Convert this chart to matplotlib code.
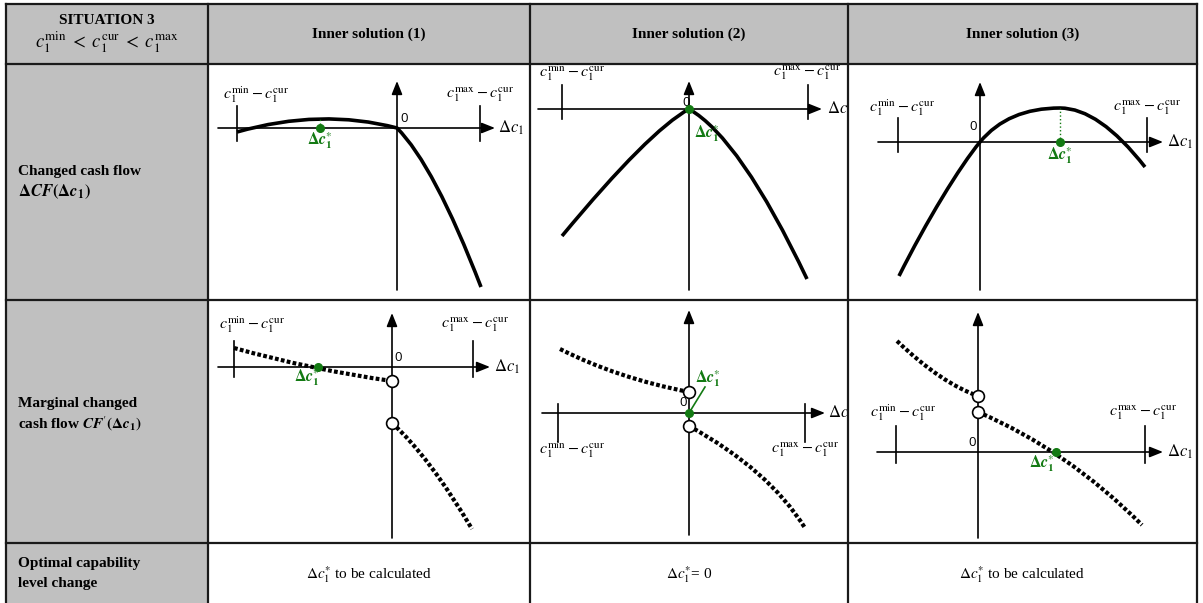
import matplotlib
matplotlib.use('agg')
import matplotlib.pyplot as plt
from matplotlib.path import Path
from matplotlib.patches import PathPatch, Rectangle, FancyArrowPatch

plt.rcParams['mathtext.fontset'] = 'stix'
SERIF = 'Liberation Serif'

W, H = 1203, 603
GREEN = '#137a13'
GRAY = '#c0c0c0'

# table layout (pixels)
col_edges = [6, 208, 530, 848, 1197]
row_edges = [4, 64, 300, 543, 603]

col_titles = ['Inner solution (1)', 'Inner solution (2)', 'Inner solution (3)']
results = [r'$\Delta c_1^{*}$ to be calculated', r'$\Delta c_1^{*}$= 0',
           r'$\Delta c_1^{*}$ to be calculated']

# --- sketch data, offsets from each panel's origin (x right, y up) ---
# panels 0-2: changed cash flow, panels 3-5: marginal changed cash flow
origins = [(397, 128), (689, 109), (980, 142), (392, 367), (689, 413), (978, 452)]
lo_bound = [-160, -127, -82, -158, -131, -82]
hi_bound = [83, 119, 167, 81, 116, 167]
tick_span = [(-13, 22), (-10, 24), (-10, 24), (-10, 26), (-29, 9), (-11, 26)]
h_axis = [(-179, 98), (-151, 133), (-102, 183), (-174, 98), (-147, 136), (-101, 185)]
v_axis = [(-162, 47), (-181, 28), (-148, 60), (-171, 54), (-122, 103), (-86, 140)]

# bezier segments: 3 points = quadratic, 4 points = cubic
cf_curves = [
    [[(-160, -4), (-76, 20), (0, 0)], [(0, 0), (37, -37), (84, -159)]],
    [[(-127, -127), (-40, -22), (0, 0)], [(0, 0), (51, -29), (118, -170)]],
    [[(-81, -134), (-54, -80), (-20, -24), (0, 0)], [(0, 0), (28, 34), (80, 34)],
     [(80, 34), (119, 34), (165, -25)]],
]
mcf_curves = [
    [[(-158, 19), (-79, -3), (0, -14)], [(0, -56), (37.5, -90), (80, -162)]],
    [[(-129, 64), (-72, 35), (0, 21)], [(0, -13), (80, -57), (116, -115)]],
    [[(-81, 111), (-37, 69), (0, 56)], [(0, 40), (89, 2), (164, -73)]],
]
open_pts = [[(0, -14), (0, -56)], [(0, 21), (0, -13)], [(0, 56), (0, 40)]]

opt_pts = [(-77, 0), (0, 0), (80, 0), (-74, 0), (0, 0), (78, 0)]
opt_guides = [[(-77, 0), (-77, 10)], None, [(80, 0), (80, 34)], None, [(0, 0), (16, 26)], None]
opt_labels = [(-77, -13), (18, -25), (80, -14), (-85, -11), (19, 34), (64, -12)]

min_labels = [(-141, 33), (-117, 36), (-78, 34), (-140, 42), (-117, -37), (-75, 39)]
max_labels = [(83, 33), (118, 36), (167, 34), (83, 42), (116, -37), (165, 39)]
zero_labels = [(7, 10), (-3, 6), (-7, 15), (6, 10), (-6, 10), (-6, 9)]
dc_label_x = [101, 138, 187, 102, 139, 189]


def bezier_path(segments):
    verts, codes = [], []
    for seg in segments:
        if not verts or verts[-1] != seg[0]:
            verts.append(seg[0])
            codes.append(Path.MOVETO)
        code = Path.CURVE3 if len(seg) == 3 else Path.CURVE4
        for p in seg[1:]:
            verts.append(p)
            codes.append(code)
    return Path(verts, codes)


fig = plt.figure(figsize=(W / 100, H / 100), dpi=100)
bg = fig.add_axes([0, 0, 1, 1])
bg.set_xlim(0, W)
bg.set_ylim(H, 0)
bg.axis('off')

# gray cells
bg.add_patch(Rectangle((col_edges[0], row_edges[0]), col_edges[-1] - col_edges[0],
                       row_edges[1] - row_edges[0], color=GRAY, lw=0))
bg.add_patch(Rectangle((col_edges[0], row_edges[1]), col_edges[1] - col_edges[0],
                       row_edges[-1] - row_edges[1], color=GRAY, lw=0))
# grid lines
for x in col_edges:
    bg.plot([x, x], [row_edges[0], H], color='#1a1a1a', lw=1.6)
for y in row_edges[:-1]:
    bg.plot([col_edges[0], col_edges[-1]], [y, y], color='#1a1a1a', lw=1.6)

# header texts
hc = (col_edges[0] + col_edges[1]) / 2
bg.text(hc, 20, 'SITUATION 3', ha='center', va='center', fontsize=11,
        fontweight='bold', family=SERIF)
bg.text(hc, 42, r'$c_1^{\rm min} \;<\; c_1^{\rm cur} \;<\; c_1^{\rm max}$', ha='center',
        va='center', fontsize=13.5, family=SERIF)
for i, t in enumerate(col_titles):
    bg.text((col_edges[i + 1] + col_edges[i + 2]) / 2, 34, t, ha='center', va='center',
            fontsize=11, fontweight='bold', family=SERIF)

# row titles
bg.text(18, 172, 'Changed cash flow', ha='left', va='center', fontsize=11,
        fontweight='bold', family=SERIF)
bg.text(18, 192, r'$\mathbf{\Delta}\mathbfit{CF}\mathbf{(\Delta}\mathbfit{c}_\mathbf{1}\mathbf{)}$',
        ha='left', va='center', fontsize=12, family=SERIF)
bg.text(18, 404, 'Marginal changed', ha='left', va='center', fontsize=11,
        fontweight='bold', family=SERIF)
bg.text(18, 424, r'cash flow $\mathbfit{CF}^{\prime}\mathbf{(\Delta}\mathbfit{c}_\mathbf{1}\mathbf{)}$',
        ha='left', va='center', fontsize=11, fontweight='bold', family=SERIF)
bg.text(18, 564, 'Optimal capability', ha='left', va='center', fontsize=11,
        fontweight='bold', family=SERIF)
bg.text(18, 584, 'level change', ha='left', va='center', fontsize=11,
        fontweight='bold', family=SERIF)
for i, t in enumerate(results):
    bg.text((col_edges[i + 1] + col_edges[i + 2]) / 2, 575, t, ha='center', va='center',
            fontsize=11, family=SERIF)

lab_min = r'$c_1^{\rm min} - c_1^{\rm cur}$'
lab_max = r'$c_1^{\rm max} - c_1^{\rm cur}$'

for k in range(6):
    col = k % 3
    row = 1 + k // 3
    ox, oy = origins[k]
    cx0, cx1 = col_edges[col + 1] + 1, col_edges[col + 2] - 1
    cy0, cy1 = row_edges[row] + 1, row_edges[row + 1] - 1
    ax = fig.add_axes([cx0 / W, 1 - cy1 / H, (cx1 - cx0) / W, (cy1 - cy0) / H])
    ax.set_xlim(cx0 - ox, cx1 - ox)
    ax.set_ylim(oy - cy1, oy - cy0)
    ax.axis('off')

    # axes with arrows
    for a, b in [((h_axis[k][0], 0), (h_axis[k][1], 0)), ((0, v_axis[k][0]), (0, v_axis[k][1]))]:
        ax.add_patch(FancyArrowPatch(a, b, arrowstyle='-|>,head_length=0.8,head_width=0.32',
                                     mutation_scale=10, lw=1.2, color='black',
                                     shrinkA=0, shrinkB=0))
    for xb in (lo_bound[k], hi_bound[k]):
        ax.plot([xb, xb], tick_span[k], color='black', lw=1.2)

    if k < 3:
        ax.add_patch(PathPatch(bezier_path(cf_curves[k]), fill=False, lw=2.6,
                               color='black', capstyle='butt'))
    else:
        ax.add_patch(PathPatch(bezier_path(mcf_curves[k - 3]), fill=False, lw=3,
                               color='black', linestyle=(0, (0.9, 0.55)), capstyle='butt'))
        xs = [p[0] for p in open_pts[k - 3]]
        ys = [p[1] for p in open_pts[k - 3]]
        ax.plot(xs, ys, 'o', ms=8.5, mfc='white', mec='black', mew=1.2, zorder=5)

    if opt_guides[k] is not None:
        g = opt_guides[k]
        ax.plot([g[0][0], g[1][0]], [g[0][1], g[1][1]], color=GREEN,
                lw=1.0 if k != 4 else 1.2, linestyle=':' if k != 4 else '-', zorder=4)
    ax.plot(*opt_pts[k], 'o', ms=5.5, color=GREEN, zorder=6)
    ax.text(*opt_labels[k], r'$\mathbf{\Delta}\mathbfit{c}_\mathbf{1}^{*}$', color=GREEN,
            ha='center', va='center', fontsize=11.5)

    ax.text(*min_labels[k], lab_min, ha='center', va='center', fontsize=11.5)
    ax.text(*max_labels[k], lab_max, ha='center', va='center', fontsize=11.5)
    ax.text(*zero_labels[k], '0', ha='center', va='center', fontsize=9.5, family='Open Sans')
    ax.text(dc_label_x[k], 0, r'$\Delta c_1$', ha='left', va='center', fontsize=12,
            clip_on=True)

fig.savefig('out.png', dpi=100)
